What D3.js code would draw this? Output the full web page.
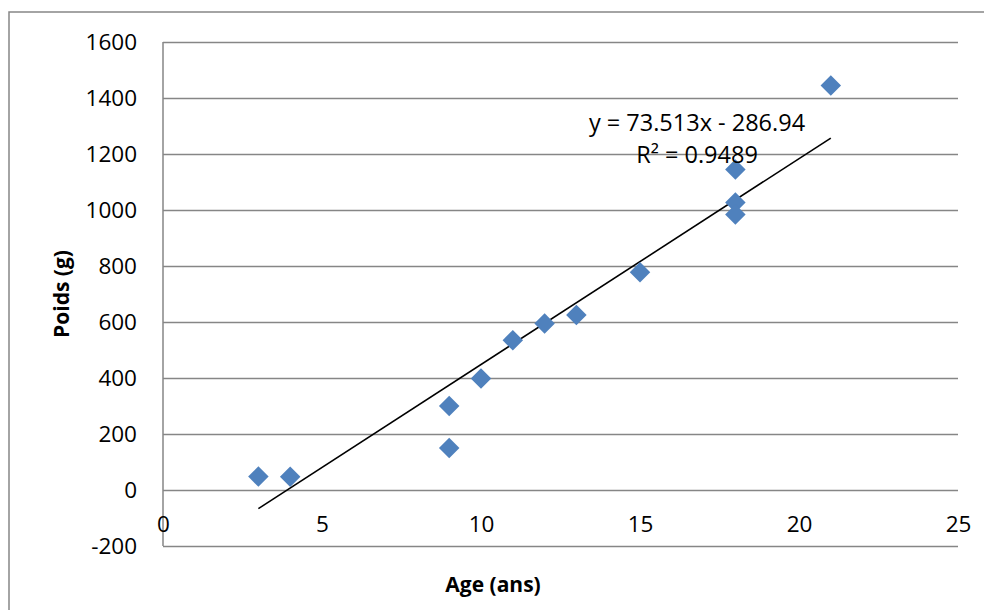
<!DOCTYPE html>
<html>
<head>
<meta charset="utf-8">
<script src="https://cdn.jsdelivr.net/npm/d3@7"></script>
<style>
  body { margin: 0; background: #fff; }
  svg text { font-family: "Open Sans", sans-serif; fill: #000; }
</style>
</head>
<body>
<div id="chart"></div>
<script>
// Age vs weight scatter with linear trendline
var ages = [3, 4, 9, 9, 10, 11, 12, 13, 15, 18, 18, 18, 21];
var poids = [48, 47, 300, 150, 398, 535, 595, 625, 778, 1145, 1027, 984, 1445];
var xTicks = [0, 5, 10, 15, 20, 25];
var yTicks = [-200, 0, 200, 400, 600, 800, 1000, 1200, 1400, 1600];
var trendSlope = 73.513;
var trendIntercept = -286.94;
var trendRange = [3, 21];
var eqLines = ["y = 73.513x - 286.94", "R\u00b2 = 0.9489"];

var width = 984;
var height = 610;
var gridColor = "#868686";

var svg = d3.select("#chart").append("svg")
  .attr("width", width)
  .attr("height", height);

// outer chart border (runs off the right and bottom edges)
svg.append("rect")
  .attr("x", 9).attr("y", 12)
  .attr("width", width + 10).attr("height", height + 10)
  .attr("fill", "none")
  .attr("stroke", gridColor)
  .attr("stroke-width", 1.5);

var xScale = d3.scaleLinear().domain([0, 25]).range([163, 958]);
var yScale = d3.scaleLinear().domain([-200, 1600]).range([546, 42]);

// plain labels, ascii minus, no thousands separator
function plain(d) { return String(d); }

// horizontal gridlines + y labels
var yAxis = d3.axisLeft(yScale)
  .tickValues(yTicks)
  .tickFormat(plain)
  .tickSizeInner(-(xScale.range()[1] - xScale.range()[0]))
  .tickSizeOuter(0)
  .tickPadding(26);

var gy = svg.append("g")
  .attr("transform", "translate(" + xScale(0) + ",0)")
  .call(yAxis);
gy.select(".domain").remove();
gy.selectAll("line").attr("stroke", gridColor).attr("stroke-width", 1.5);
gy.selectAll("text").attr("font-size", 22.5);

// vertical axis line
svg.append("line")
  .attr("x1", xScale(0)).attr("x2", xScale(0))
  .attr("y1", yScale(1600)).attr("y2", yScale(-200))
  .attr("stroke", gridColor)
  .attr("stroke-width", 1.5);

// x labels sit under the zero line
var xAxis = d3.axisBottom(xScale)
  .tickValues(xTicks)
  .tickFormat(plain)
  .tickSize(0)
  .tickPadding(26);

var gx = svg.append("g")
  .attr("transform", "translate(0," + yScale(0) + ")")
  .call(xAxis);
gx.select(".domain").remove();
gx.selectAll("text").attr("font-size", 22.5);

// trendline
svg.append("line")
  .attr("x1", xScale(trendRange[0]))
  .attr("y1", yScale(trendSlope * trendRange[0] + trendIntercept))
  .attr("x2", xScale(trendRange[1]))
  .attr("y2", yScale(trendSlope * trendRange[1] + trendIntercept))
  .attr("stroke", "#000")
  .attr("stroke-width", 1.6);

// diamond markers
var diamond = d3.symbol().type(d3.symbolSquare).size(210);
svg.append("g").selectAll("path")
  .data(ages)
  .enter()
  .append("path")
  .attr("d", diamond)
  .attr("transform", function(d, i) {
    return "translate(" + xScale(d) + "," + yScale(poids[i]) + ") rotate(45)";
  })
  .attr("fill", "#4f81bd");

// equation label
svg.append("text")
  .attr("x", 697).attr("y", 131)
  .attr("text-anchor", "middle")
  .attr("font-size", 23.5)
  .text(eqLines[0]);
svg.append("text")
  .attr("x", 697).attr("y", 163)
  .attr("text-anchor", "middle")
  .attr("font-size", 23.5)
  .text(eqLines[1]);

// axis titles
svg.append("text")
  .attr("x", 493).attr("y", 592)
  .attr("text-anchor", "middle")
  .attr("font-size", 21)
  .attr("font-weight", "bold")
  .text("Age (ans)");

svg.append("text")
  .attr("transform", "translate(69," + ((yScale(1600) + yScale(-200)) / 2) + ") rotate(-90)")
  .attr("text-anchor", "middle")
  .attr("font-size", 21)
  .attr("font-weight", "bold")
  .text("Poids (g)");
</script>
</body>
</html>
